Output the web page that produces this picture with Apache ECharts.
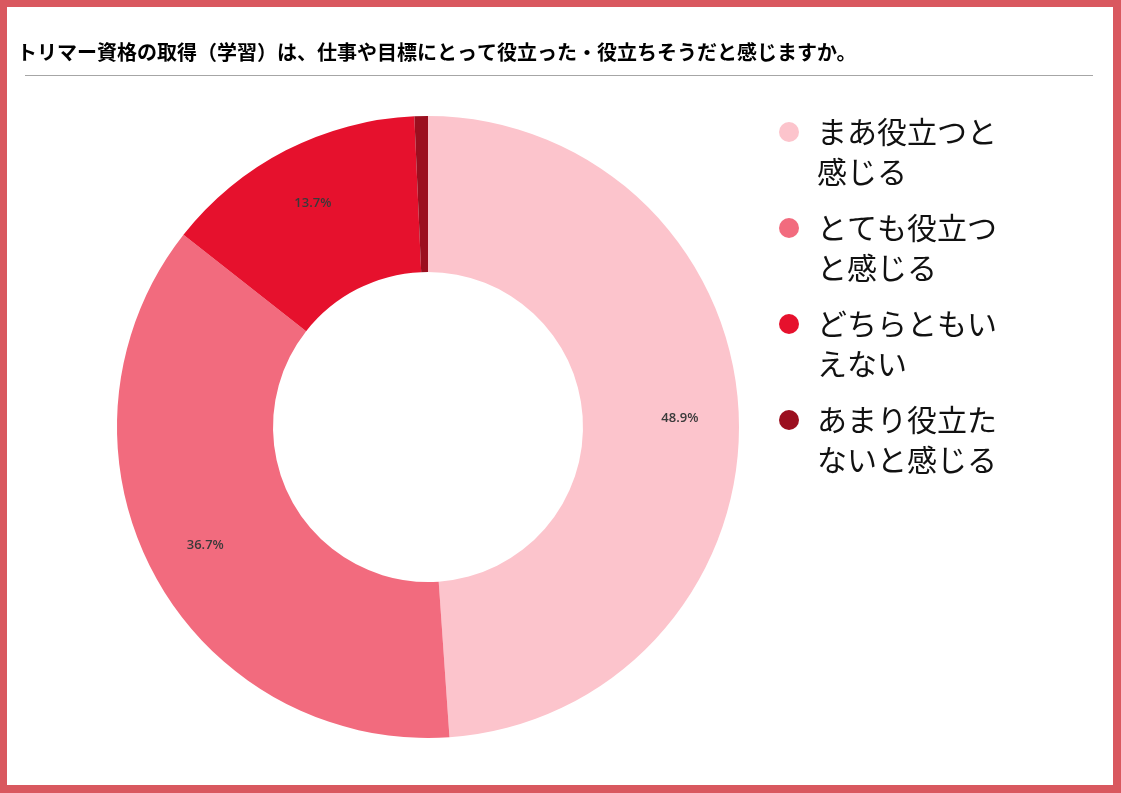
<!DOCTYPE html>
<html>
<head>
<meta charset="utf-8">
<script src="https://cdn.jsdelivr.net/npm/echarts@6/dist/echarts.min.js"></script>
<style>
  html, body { margin: 0; padding: 0; background: #d9585f; }
  #chart { width: 1121px; height: 793px; }
</style>
</head>
<body>
<div id="chart"></div>
<script>
// answers and share (%)
const answers = ['まあ役立つと感じる', 'とても役立つと感じる', 'どちらともいえない', 'あまり役立たないと感じる'];
const shares = [48.9, 36.7, 13.7, 0.7];
const colors = ['#fcc4cc', '#f26b7e', '#e6112d', '#9b0f1f'];

const titleText = 'トリマー資格の取得（学習）は、仕事や目標にとって役立った・役立ちそうだと感じますか。';

const chart = echarts.init(document.getElementById('chart'));

const pieCenter = [428, 427];

// circle at the top-left of a tall box so the dot sits next to the first text line
const dotIcon = 'path://M33,0L33,0M0,20A10,10,0,1,1,20,20A10,10,0,1,1,0,20ZM33,80L33,80';

const option = {
  backgroundColor: '#d9585f',
  animation: false,
  graphic: [
    {
      type: 'rect',
      z: -10,
      shape: { x: 7, y: 7, width: 1106, height: 778 },
      style: { fill: '#ffffff' }
    },
    {
      type: 'line',
      shape: { x1: 25, y1: 75.5, x2: 1093, y2: 75.5 },
      style: { stroke: '#a6a6a6', lineWidth: 1 }
    }
  ],
  title: {
    text: titleText,
    left: 17,
    top: 40,
    padding: 0,
    textStyle: {
      fontFamily: 'Noto Sans CJK JP',
      fontSize: 20,
      lineHeight: 24,
      fontWeight: 'bold',
      color: '#000000'
    }
  },
  legend: {
    orient: 'vertical',
    left: 779,
    top: 112,
    padding: 0,
    itemGap: 16,
    itemWidth: 33,
    itemHeight: 80,
    icon: dotIcon,
    selectedMode: false,
    formatter: name => name.slice(0, 6) + '\n' + name.slice(6),
    textStyle: {
      fontFamily: 'Noto Sans CJK JP',
      fontSize: 30,
      lineHeight: 40,
      color: '#111111'
    }
  },
  series: [
    {
      type: 'pie',
      center: pieCenter,
      radius: [155, 311],
      startAngle: 90,
      clockwise: true,
      avoidLabelOverlap: false,
      itemStyle: { borderWidth: 0 },
      label: {
        show: true,
        position: 'inside',
        fontFamily: 'Open Sans',
        fontSize: 13,
        fontWeight: 600,
        color: '#3a3a3a',
        formatter: p => p.value.toFixed(1) + '%'
      },
      labelLine: { show: false },
      // push the value labels a bit further out along their radius
      labelLayout: params => {
        const r = params.labelRect;
        const dx = r.x + r.width / 2 - pieCenter[0];
        const dy = r.y + r.height / 2 - pieCenter[1];
        const d = Math.sqrt(dx * dx + dy * dy) || 1;
        return { dx: dx / d * 16, dy: dy / d * 16 };
      },
      emphasis: { disabled: true },
      data: answers.map((name, i) => ({
        name: name,
        value: shares[i],
        itemStyle: { color: colors[i] },
        label: { show: shares[i] >= 1 }
      }))
    }
  ]
};

chart.setOption(option);
</script>
</body>
</html>
